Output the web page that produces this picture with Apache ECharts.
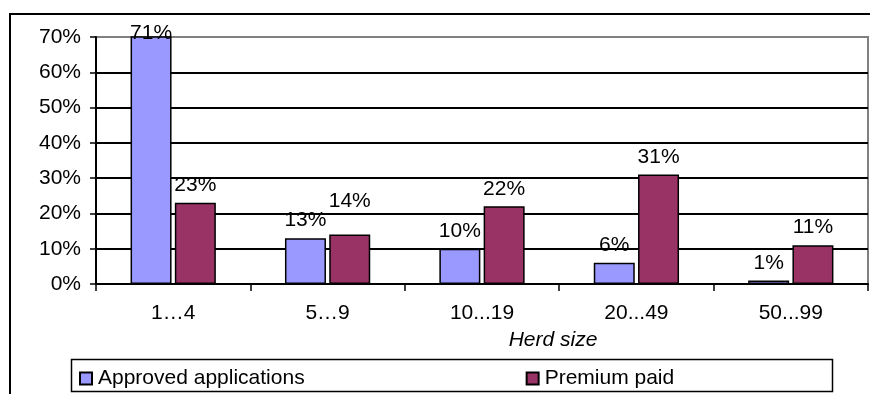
<!DOCTYPE html>
<html>
<head>
<meta charset="utf-8">
<script src="https://cdn.jsdelivr.net/npm/echarts@6/dist/echarts.min.js"></script>
<style>
  html, body { margin: 0; padding: 0; background: #fff; }
  #chart { width: 870px; height: 394px; }
</style>
</head>
<body>
<div id="chart"></div>
<script>
// 数据
var categories = ["1\u20264", "5\u20269", "10...19", "20...49", "50...99"];
var approved = [71, 13, 10, 6, 1];
var premium = [23, 14, 22, 31, 11];
var yTicks = [0, 10, 20, 30, 40, 50, 60, 70];

var FONT = "Liberation Sans, Arial, sans-serif";

var myChart = echarts.init(document.getElementById("chart"));

function labelOf(v) {
  return v + "%";
}

// 网格线：最上面一条为灰色
var gridColors = yTicks.map(function (t, i) {
  return i === yTicks.length - 1 ? "#808080" : "#000";
});

var option = {
  animation: false,
  textStyle: { fontFamily: FONT },
  graphic: [
    // 外框
    {
      type: "rect",
      shape: { x: 10, y: 14, width: 900, height: 420 },
      style: { fill: "none", stroke: "#000", lineWidth: 2 },
      z: 0
    },
    // 图例框
    {
      type: "rect",
      shape: { x: 71.5, y: 359.5, width: 761, height: 32 },
      style: { fill: "#fff", stroke: "#000", lineWidth: 1.5 },
      z: 1
    }
  ],
  grid: {
    left: 96,
    right: 2,
    top: 37,
    bottom: 110,
    show: true,
    borderColor: "#808080",
    borderWidth: 2,
    backgroundColor: "transparent"
  },
  legend: {
    left: 74,
    top: 363,
    itemWidth: 12,
    itemHeight: 12,
    itemGap: 221,
    icon: "rect",
    z: 5,
    textStyle: { fontSize: 21, color: "#000", fontFamily: FONT, padding: [2, 0, 0, 1] },
    data: ["Approved applications", "Premium paid"]
  },
  xAxis: {
    type: "category",
    data: categories,
    name: "Herd size",
    nameLocation: "middle",
    nameGap: 46,
    nameTextStyle: {
      fontSize: 21,
      fontStyle: "italic",
      color: "#000",
      fontFamily: FONT,
      padding: [0, 0, 0, 142]
    },
    axisLine: { lineStyle: { color: "#000", width: 2 } },
    axisTick: { show: true, length: 7, lineStyle: { color: "#000", width: 1.5 } },
    axisLabel: { fontSize: 21, color: "#000", margin: 19, fontFamily: FONT },
    splitLine: { show: false }
  },
  yAxis: {
    type: "value",
    min: yTicks[0],
    max: yTicks[yTicks.length - 1],
    interval: 10,
    axisLine: { show: true, lineStyle: { color: "#000", width: 2 } },
    axisTick: { show: true, length: 6, lineStyle: { color: "#000", width: 1.5 } },
    axisLabel: { fontSize: 21, color: "#000", margin: 15, formatter: "{value}%", fontFamily: FONT },
    splitLine: { show: true, lineStyle: { color: gridColors, width: 2 } }
  },
  series: [
    {
      name: "Approved applications",
      type: "bar",
      data: approved.map(function (v, i) {
        // 71% 的标签压在柱顶
        return i === 0 ? { value: v, label: { distance: -7 } } : v;
      }),
      barWidth: 41,
      barGap: "8%",
      barCategoryGap: "45%",
      itemStyle: { color: "#9999FF", borderColor: "#000", borderWidth: 1.5 },
      label: {
        show: true,
        position: "top",
        distance: 7,
        fontSize: 21,
        color: "#000",
        fontFamily: FONT,
        formatter: function (p) { return labelOf(p.value); }
      },
      z: 3
    },
    {
      name: "Premium paid",
      type: "bar",
      data: premium.map(function (v, i) {
        // 14% 的标签抬高，避免与 13% 重叠
        return i === 1 ? { value: v, label: { distance: 23 } } : v;
      }),
      barWidth: 41,
      itemStyle: { color: "#993366", borderColor: "#000", borderWidth: 1.5 },
      label: {
        show: true,
        position: "top",
        distance: 7,
        fontSize: 21,
        color: "#000",
        fontFamily: FONT,
        formatter: function (p) { return labelOf(p.value); }
      },
      z: 3
    }
  ]
};

myChart.setOption(option);
</script>
</body>
</html>
